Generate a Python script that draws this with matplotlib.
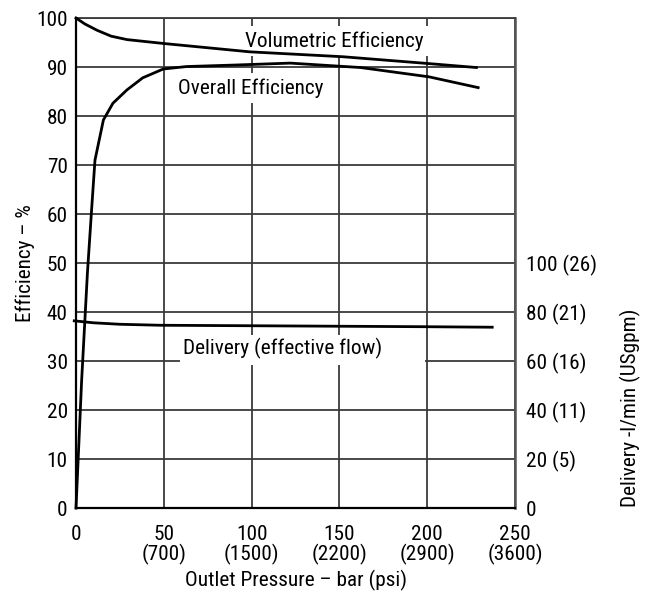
import matplotlib
matplotlib.use("Agg")
import matplotlib.pyplot as plt
from matplotlib import font_manager
from matplotlib.patches import Rectangle

names = {f.name for f in font_manager.fontManager.ttflist}
FONT = "DejaVu Sans"
for cand in ["Roboto Condensed", "Archivo Narrow", "Barlow Semi Condensed", "Asap Condensed"]:
    if cand in names:
        FONT = cand
        break
plt.rcParams['font.family'] = [FONT, 'DejaVu Sans']

# ---- data ----
vol_x = [0, 5, 12, 20, 29, 50, 99, 152, 201, 228]
vol_y = [100, 98.8, 97.5, 96.3, 95.6, 94.8, 93.1, 92.1, 90.7, 89.9]

ovr_x = [0, 3.2, 6.5, 8.9, 10.8, 15.6, 21, 28.9, 38, 49.7, 63, 90, 122, 162, 201, 229]
ovr_y = [0, 26, 48, 61, 71, 79.2, 82.6, 85.3, 87.8, 89.6, 90.1, 90.4, 90.8, 89.9, 88.0, 85.8]

del_x = [-1, 10, 25, 48, 100, 150, 200, 237]
del_lpm = [76.4, 75.6, 75.0, 74.6, 74.4, 74.2, 74.0, 73.8]

x_ticks = [0, 50, 100, 150, 200, 250]
x_labels = ["0", "50\n(700)", "100\n(1500)", "150\n(2200)", "200\n(2900)", "250\n(3600)"]
y_ticks = [0, 10, 20, 30, 40, 50, 60, 70, 80, 90, 100]
r_ticks = [0, 20, 40, 60, 80, 100]
r_labels = ["0", "20 (5)", "40 (11)", "60 (16)", "80 (21)", "100 (26)"]

FS = 15.3
fig = plt.figure(figsize=(6.48, 6.01), dpi=100)
ax = fig.add_axes([0.1173, 0.1547, 0.6775, 0.8153])
ax.set_xlim(0, 250)
ax.set_ylim(0, 100)
ax.set_xticks(x_ticks)
ax.set_xticklabels(x_labels, fontsize=FS, linespacing=1.0)
ax.set_yticks(y_ticks)
ax.set_yticklabels([str(v) for v in y_ticks], fontsize=FS)
ax.tick_params(axis="y", length=0, pad=6)
ax.tick_params(axis="x", length=0, pad=12)
ax.grid(True, color="#3a3a3a", linewidth=1.3, zorder=1)
ax.set_axisbelow(True)
for s in ["left", "bottom"]:
    ax.spines[s].set_color("black")
    ax.spines[s].set_linewidth(1.6)
ax.spines["top"].set_color("#3a3a3a")
ax.spines["top"].set_linewidth(1.3)
ax.spines["right"].set_color("#555555")
ax.spines["right"].set_linewidth(1.8)

ax.set_ylabel("Efficiency – %", fontsize=FS)
ax.yaxis.set_label_coords(-0.093, 0.5)
ax.set_xlabel("Outlet Pressure – bar (psi)", fontsize=FS, labelpad=4)

ax2 = ax.twinx()
ax2.set_ylim(0, 200)
ax2.set_yticks(r_ticks)
ax2.set_yticklabels(r_labels, fontsize=FS)
ax2.tick_params(length=0, pad=8)
for s in ax2.spines.values():
    s.set_visible(False)
ax2.set_ylabel("Delivery -l/min (USgpm)", fontsize=FS)
ax2.yaxis.set_label_coords(1.238, 0.204)

# white gap behind the delivery label (as in the reference)
ax.add_patch(Rectangle((59.2, 29.2), 139.5, 6.1, facecolor="white", edgecolor="none", zorder=1.5))

box = dict(facecolor="white", edgecolor="none", boxstyle="square,pad=0.25")
ax.text(96, 95.3, "Volumetric Efficiency", fontsize=FS, va="center", ha="left", bbox=box, zorder=2)
ax.text(58, 85.7, "Overall Efficiency", fontsize=FS, va="center", ha="left", bbox=box, zorder=2)
ax.text(61, 32.6, "Delivery (effective flow)", fontsize=FS, va="center", ha="left", zorder=2)

lw = 2.0
ax.plot(vol_x, vol_y, color="black", lw=lw, zorder=3, clip_on=False)
ax.plot(ovr_x, ovr_y, color="black", lw=lw, zorder=3, clip_on=False)
ax2.plot(del_x, del_lpm, color="black", lw=lw, zorder=3, clip_on=False)

fig.savefig("out.png", dpi=100)
